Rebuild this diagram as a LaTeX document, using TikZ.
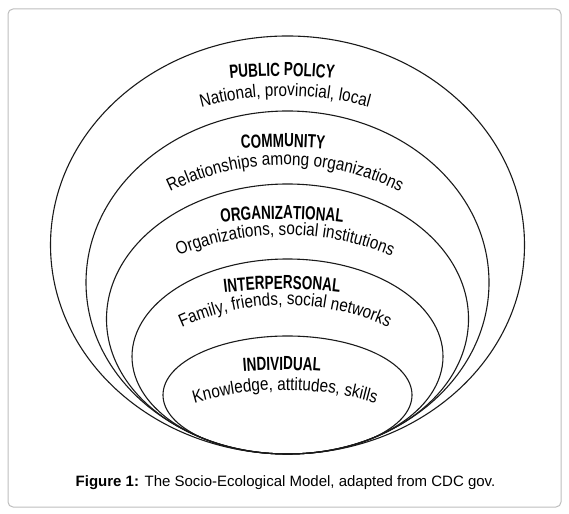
\documentclass[tikz,border=0pt]{standalone}
\usepackage{fontspec}
\setmainfont{Liberation Sans}
\newfontfamily\headfont[FakeStretch=0.71]{Liberation Sans}
\newfontfamily\bodyfont[FakeStretch=0.85]{Liberation Sans}
\usetikzlibrary{shapes.geometric, decorations.text}
\definecolor{ringline}{HTML}{1A1A1A}
\definecolor{panelline}{HTML}{BDBDBD}
\newcommand{\ttlfont}{\headfont\bfseries\fontsize{19}{21}\selectfont}
\newcommand{\subfont}{\bodyfont\fontsize{18}{20}\selectfont}
\tikzset{
  ring/.style   = {ellipse, draw=ringline, line width=1.1pt, inner sep=0pt},
  panel/.style  = {draw=panelline, line width=1pt, rounded corners=5pt},
  captxt/.style = {font=\fontsize{15}{18}\selectfont, text=black, inner sep=0pt, anchor=base},
}
% text on a circular arc: x, baseline y at the top, radius, text
\newcommand{\curvedlabel}[4]{%
  \path[decorate, decoration={text along path, text align=center, text={#4}}]
    ([shift={(130:#3)}]#1,#2-#3) arc[start angle=130, end angle=50, radius=#3];}

\begin{document}
\begin{tikzpicture}[x=1pt, y=1pt]
  \useasboundingbox (0,0) rectangle (569,513);
  \draw[panel] (8,6) rectangle (561,504);
  % nested levels, all touching at the bottom
  \foreach \nm/\rx/\ry in {
    policy/237/209,
    community/201.5/171.5,
    org/181/135,
    inter/155.5/97.5,
    indiv/124.5/59}{
    \node[ring, minimum width=2*\rx, minimum height=2*\ry] (\nm) at (287.5,{59+\ry}) {};
  }
  \curvedlabel{282}{437}{480}{|\ttlfont|PUBLIC POLICY}
  \curvedlabel{285}{417}{320}{|\subfont|National, provincial, local}
  \curvedlabel{283}{366}{480}{|\ttlfont|COMMUNITY}
  \curvedlabel{285}{348}{260}{|\subfont|Relationships among organizations}
  \curvedlabel{282}{294}{480}{|\ttlfont|ORGANIZATIONAL}
  \curvedlabel{285}{278}{280}{|\subfont|Organizations, social institutions}
  \curvedlabel{282}{224}{480}{|\ttlfont|INTERPERSONAL}
  \curvedlabel{285}{208}{250}{|\subfont|Family, friends, social networks}
  \curvedlabel{282}{143}{480}{|\ttlfont|INDIVIDUAL}
  \curvedlabel{285}{123}{320}{|\subfont|Knowledge, attitudes, skills}
  \node[captxt] (caption) at (285.5,27) {\textbf{Figure 1:} The Socio-Ecological Model, adapted from CDC gov.};
\end{tikzpicture}
\end{document}
